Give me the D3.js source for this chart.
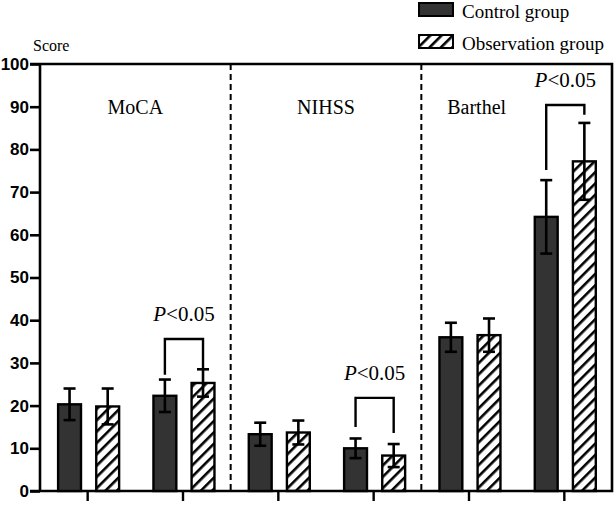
<!DOCTYPE html>
<html>
<head>
<meta charset="utf-8">
<script src="https://cdn.jsdelivr.net/npm/d3@7"></script>
<style>
  body { margin: 0; background: #fff; }
  svg { display: block; }
</style>
</head>
<body>
<div id="chart"></div>
<script>
// six bar pairs: two time points for each scale
var categories = ['MoCA-1', 'MoCA-2', 'NIHSS-1', 'NIHSS-2', 'Barthel-1', 'Barthel-2']
	, series = ['Control group', 'Observation group']
	, controlMean = [20.3, 22.3, 13.3, 10.0, 36.0, 64.2]
	, controlSD = [3.7, 3.8, 2.7, 2.3, 3.4, 8.6]
	, obsMean = [19.8, 25.3, 13.7, 8.3, 36.5, 77.2]
	, obsSD = [4.2, 3.2, 2.8, 2.7, 3.9, 9.0]
	, panels = ['MoCA', 'NIHSS', 'Barthel']
	, yTicks = [0, 10, 20, 30, 40, 50, 60, 70, 80, 90, 100]
	// significance brackets: category index, bracket top, left leg end, right leg end
	, sigCat = [1, 3, 5]
	, sigTop = [35.6, 21.8, 90.4]
	, sigLeft = [27.2, 15.0, 75.2]
	, sigRight = [28.3, 13.6, 88.1]
	;

var W = 614, H = 507
	, pL = 40, pR = 612, pT = 64, pB = 491
	;

var svg = d3.select('#chart').append('svg').attr('width', W).attr('height', H);

var defs = svg.append('defs');
defs.append('pattern').attr('id', 'hatch').attr('patternUnits', 'userSpaceOnUse')
	.attr('width', 8).attr('height', 8).attr('patternTransform', 'rotate(45)')
	.append('rect').attr('x', 0).attr('y', 0).attr('width', 2.6).attr('height', 8).attr('fill', '#000');

var x0 = d3.scaleBand().domain(categories).range([pL, pR]);
var x1 = d3.scaleBand().domain(series).range([x0.bandwidth() * 0.19, x0.bandwidth() * 0.83]).paddingInner(0.4);
var y = d3.scaleLinear().domain([0, 100]).range([pB, pT]);

function label(x, yy, size, txt){
	return svg.append('text').style('font-family', "'Liberation Serif'").style('font-size', size + 'px')
		.attr('fill', '#000').attr('x', x).attr('y', yy).text(txt);
}

// y axis
var yAxis = svg.append('g').attr('transform', 'translate(' + pL + ',0)')
	.call(d3.axisLeft(y).tickValues(yTicks).tickSize(10).tickPadding(1));
yAxis.selectAll('line').attr('stroke', '#000').attr('stroke-width', 2.6);
yAxis.select('.domain').remove();
yAxis.selectAll('text').style('font-family', "'Liberation Sans'").style('font-weight', 'bold')
	.style('font-size', '17px').attr('fill', '#000');
svg.append('line').attr('x1', pL).attr('x2', pL).attr('y1', pT).attr('y2', pB)
	.attr('stroke', '#000').attr('stroke-width', 2.6);

// x axis ticks only
var xAxis = svg.append('g').attr('transform', 'translate(0,' + pB + ')')
	.call(d3.axisBottom(x0).tickSize(10).tickFormat(''));
xAxis.select('.domain').remove();
xAxis.selectAll('line').attr('stroke', '#000').attr('stroke-width', 2.4);

// frame
svg.append('path').attr('d', 'M' + (pL - 10) + ',' + pB + 'H' + pR + 'V' + pT + 'H' + (pL - 10))
	.attr('fill', 'none').attr('stroke', '#000').attr('stroke-width', 2.6);

// dashed separators between panels
[2, 4].forEach(function(i){
	var xs = x0(categories[i]);
	svg.append('line').attr('x1', xs).attr('x2', xs).attr('y1', pT).attr('y2', pB)
		.attr('stroke', '#000').attr('stroke-width', 2).attr('stroke-dasharray', '6,4');
});

// panel labels
panels.forEach(function(p, i){
	var cx = (x0(categories[i * 2]) + x0(categories[i * 2 + 1]) + x0.bandwidth()) / 2;
	label(cx + (i === 2 ? -40 : 0), 114, 20, p).attr('text-anchor', 'middle');
});

// bars
var rows = categories.map(function(c, i){
	return [
		{cat: c, s: series[0], m: controlMean[i], sd: controlSD[i]},
		{cat: c, s: series[1], m: obsMean[i], sd: obsSD[i]}
	];
});
var bars = svg.selectAll('g.cat').data(rows).enter().append('g').attr('class', 'cat')
	.attr('transform', function(d){ return 'translate(' + x0(d[0].cat) + ',0)'; });

bars.selectAll('rect').data(function(d){ return d; }).enter().append('rect')
	.attr('x', function(d){ return x1(d.s); })
	.attr('y', function(d){ return y(d.m); })
	.attr('width', x1.bandwidth())
	.attr('height', function(d){ return pB - y(d.m); })
	.attr('fill', function(d, i){ return i === 0 ? '#333333' : 'url(#hatch)'; })
	.attr('stroke', '#000').attr('stroke-width', 2.4);

// error bars
var eb = bars.selectAll('g.err').data(function(d){ return d; }).enter().append('g').attr('class', 'err')
	.attr('stroke', '#000').attr('stroke-width', 2.6);
eb.append('line')
	.attr('x1', function(d){ return x1(d.s) + x1.bandwidth() / 2; })
	.attr('x2', function(d){ return x1(d.s) + x1.bandwidth() / 2; })
	.attr('y1', function(d){ return y(d.m - d.sd); })
	.attr('y2', function(d){ return y(d.m + d.sd); });
[1, -1].forEach(function(k){
	eb.append('line')
		.attr('x1', function(d){ return x1(d.s) + x1.bandwidth() / 2 - 6; })
		.attr('x2', function(d){ return x1(d.s) + x1.bandwidth() / 2 + 6; })
		.attr('y1', function(d){ return y(d.m + k * d.sd); })
		.attr('y2', function(d){ return y(d.m + k * d.sd); });
});

// significance brackets
sigCat.forEach(function(ci, i){
	var xa = x0(categories[ci]) + x1(series[0]) + x1.bandwidth() / 2
		, xb = x0(categories[ci]) + x1(series[1]) + x1.bandwidth() / 2
		;
	svg.append('path')
		.attr('d', 'M' + xa + ',' + y(sigLeft[i]) + 'V' + y(sigTop[i]) + 'H' + xb + 'V' + y(sigRight[i]))
		.attr('fill', 'none').attr('stroke', '#000').attr('stroke-width', 2.4);
	var t = label((xa + xb) / 2, y(sigTop[i]) - 18, 21, '').attr('text-anchor', 'middle');
	t.append('tspan').style('font-style', 'italic').text('P');
	t.append('tspan').text('<0.05');
});

// y label
label(33, 51, 16, 'Score');

// legend
series.forEach(function(s, i){
	var ly = 3 + i * 32;
	svg.append('rect').attr('x', 419).attr('y', ly).attr('width', 34).attr('height', 13)
		.attr('fill', i === 0 ? '#333333' : 'url(#hatch)').attr('stroke', '#000').attr('stroke-width', 2);
	label(462, ly + 15, 19, s);
});
</script>
</body>
</html>
